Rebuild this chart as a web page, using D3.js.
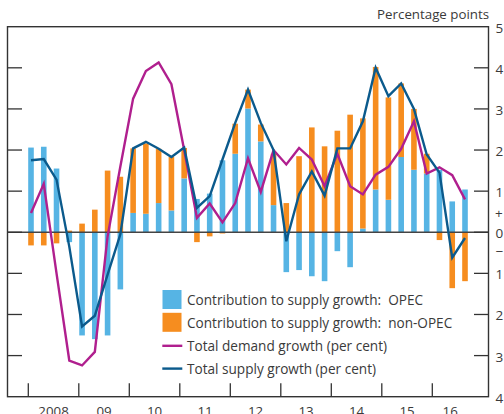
<!DOCTYPE html>
<html><head><meta charset="utf-8">
<script src="https://cdn.jsdelivr.net/npm/d3@7"></script>
<style>
html,body{margin:0;padding:0;background:#fff;}
svg{display:block;}
text{font-family:"Open Sans",sans-serif;fill:#3a3a3a;}
</style>
</head><body>
<svg id="c" width="504" height="414"></svg>
<script>
const quarters = ["2008Q1","2008Q2","2008Q3","2008Q4","2009Q1","2009Q2","2009Q3","2009Q4",
  "2010Q1","2010Q2","2010Q3","2010Q4","2011Q1","2011Q2","2011Q3","2011Q4",
  "2012Q1","2012Q2","2012Q3","2012Q4","2013Q1","2013Q2","2013Q3","2013Q4",
  "2014Q1","2014Q2","2014Q3","2014Q4","2015Q1","2015Q2","2015Q3","2015Q4",
  "2016Q1","2016Q2","2016Q3"];
const opec = [2.06,2.08,1.55,-0.24,-2.51,-2.60,-2.51,-1.39,0.47,0.45,0.71,0.53,1.31,0.81,0.94,1.75,
  1.91,3.01,2.21,0.66,-0.97,-0.92,-1.07,-1.19,-0.46,-0.85,0.09,1.04,0.79,1.83,1.52,1.43,1.52,0.75,1.04];
const nonOpec = [-0.32,-0.32,-0.27,0.04,0.21,0.55,1.50,1.35,1.57,1.71,1.32,1.30,0.74,-0.24,-0.10,-0.03,
  0.73,0.46,0.41,1.25,0.71,1.85,2.55,2.09,2.47,2.86,2.68,2.98,2.49,1.79,1.48,0.48,-0.19,-1.36,-1.19];
const demand = [0.47,1.18,-1.0,-3.12,-3.24,-2.91,-0.1,1.6,3.25,3.92,4.13,3.6,2.0,0.35,0.70,0.24,
  0.71,1.8,0.98,2.0,1.65,2.05,1.77,1.12,1.91,1.12,0.92,1.4,1.59,2.03,2.7,1.43,1.58,1.39,0.8];
const supply = [1.75,1.78,1.28,-0.35,-2.29,-2.03,-1.03,-0.05,2.04,2.2,2.03,1.83,2.06,0.59,0.88,1.77,
  2.66,3.47,2.66,2.0,-0.22,0.92,1.48,0.89,2.04,2.04,2.7,4.0,3.31,3.62,3.0,1.89,1.45,-0.62,-0.14];
const yearLabels = ["2008","09","10","11","12","13","14","15","16"];
const yTicks = [5,4,3,2,1,0,-1,-2,-3,-4];
const yTickLabels = ["5","4","3","2","1","0","1","2","3","4"];
const legendLabels = ["Contribution to supply growth:  OPEC","Contribution to supply growth:  non-OPEC",
  "Total demand growth (per cent)","Total supply growth (per cent)"];

const C = {opec:"#56b4e4", non:"#f68d1f", demand:"#b01f8e", supply:"#0b5a8c", ink:"#3a3a3a"};
const svg = d3.select("#c");
const L = 7.5, R = 488.5, T = 26.7, B = 396.7;
const y = d3.scaleLinear().domain([-4,5]).range([B,T]);
const xq = d3.scaleLinear().domain([0,quarters.length-1]).range([31,465]);
const xy = d3.scaleLinear().domain([2008,2016]).range([28.3,432.3]);

const rows = quarters.map((q,i)=>({q, i, opec:opec[i], nonOpec:nonOpec[i]}));
const series = d3.stack().keys(["opec","nonOpec"]).offset(d3.stackOffsetDiverging)(rows);
const bw = 5.6;
svg.append("g").selectAll("g").data(series).join("g")
  .attr("fill", d => d.key==="opec" ? C.opec : C.non)
  .selectAll("rect").data(d=>d).join("rect")
  .attr("x", d => xq(d.data.i)-bw/2)
  .attr("width", bw)
  .attr("y", d => y(Math.max(d[0],d[1])))
  .attr("height", d => Math.abs(y(d[0])-y(d[1])));

// zero line
svg.append("line").attr("x1",L).attr("x2",R).attr("y1",y(0)).attr("y2",y(0))
  .attr("stroke","#444").attr("stroke-width",1.4);

const line = arr => d3.line().x((d,i)=>xq(i)).y(d=>y(d))(arr);
svg.append("path").attr("d",line(demand)).attr("fill","none").attr("stroke",C.demand)
  .attr("stroke-width",2.4).attr("stroke-linejoin","miter");
svg.append("path").attr("d",line(supply)).attr("fill","none").attr("stroke",C.supply)
  .attr("stroke-width",2.4).attr("stroke-linejoin","miter");

// frame
svg.append("rect").attr("x",L).attr("y",T).attr("width",R-L).attr("height",B-T)
  .attr("fill","none").attr("stroke","#333").attr("stroke-width",1.4);

// y ticks both sides
const yt = svg.append("g").attr("stroke","#333").attr("stroke-width",1.3);
yTicks.filter(v=>v>-4 && v<5).forEach(v=>{
  yt.append("line").attr("x1",L).attr("x2",L+14.5).attr("y1",y(v)).attr("y2",y(v));
  yt.append("line").attr("x1",R-14.5).attr("x2",R).attr("y1",y(v)).attr("y2",y(v));
});
yTicks.forEach((v,i)=>{
  svg.append("text").attr("x",495.5).attr("y",y(v)+1).attr("dominant-baseline","central")
    .attr("font-size",13.5).text(yTickLabels[i]);
});
svg.append("text").attr("x",495).attr("y",y(0.5)+1.5).attr("dominant-baseline","central")
  .attr("font-size",13.5).text("+");
svg.append("text").attr("x",495.5).attr("y",y(-0.45)).attr("dominant-baseline","central")
  .attr("font-size",13.5).text("\u2212");

// x ticks (year boundaries)
const xt = svg.append("g").attr("stroke","#333").attr("stroke-width",1.3);
d3.range(2008,2017).forEach(yr=>{
  xt.append("line").attr("x1",xy(yr)).attr("x2",xy(yr)).attr("y1",B).attr("y2",B-13.5);
});
yearLabels.forEach((lab,k)=>{
  const yr = 2008+k;
  const cx = yr<2016 ? xy(yr+0.5) : (xy(2016)+xq(quarters.length-1)+3)/2;
  svg.append("text").attr("x",cx).attr("y",415.5).attr("text-anchor","middle")
    .attr("font-size",13.3).text(lab);
});

svg.append("text").attr("x",489).attr("y",18.5).attr("text-anchor","end")
  .attr("font-size",13.3).text("Percentage points");

// legend
const lg = svg.append("g");
const rowY = [299.5,322.3,345.8,368.6];
[C.opec,C.non].forEach((c,k)=>{
  lg.append("rect").attr("x",162.5).attr("y",rowY[k]-9.5).attr("width",19).attr("height",19).attr("fill",c);
});
[C.demand,C.supply].forEach((c,k)=>{
  lg.append("line").attr("x1",162.3).attr("x2",182.3).attr("y1",rowY[k+2]).attr("y2",rowY[k+2])
    .attr("stroke",c).attr("stroke-width",2.4);
});
legendLabels.forEach((t,k)=>{
  lg.append("text").attr("x",187).attr("y",rowY[k]).attr("dominant-baseline","central")
    .attr("font-size",13.6).style("white-space","pre").text(t);
});
</script>
</body></html>
